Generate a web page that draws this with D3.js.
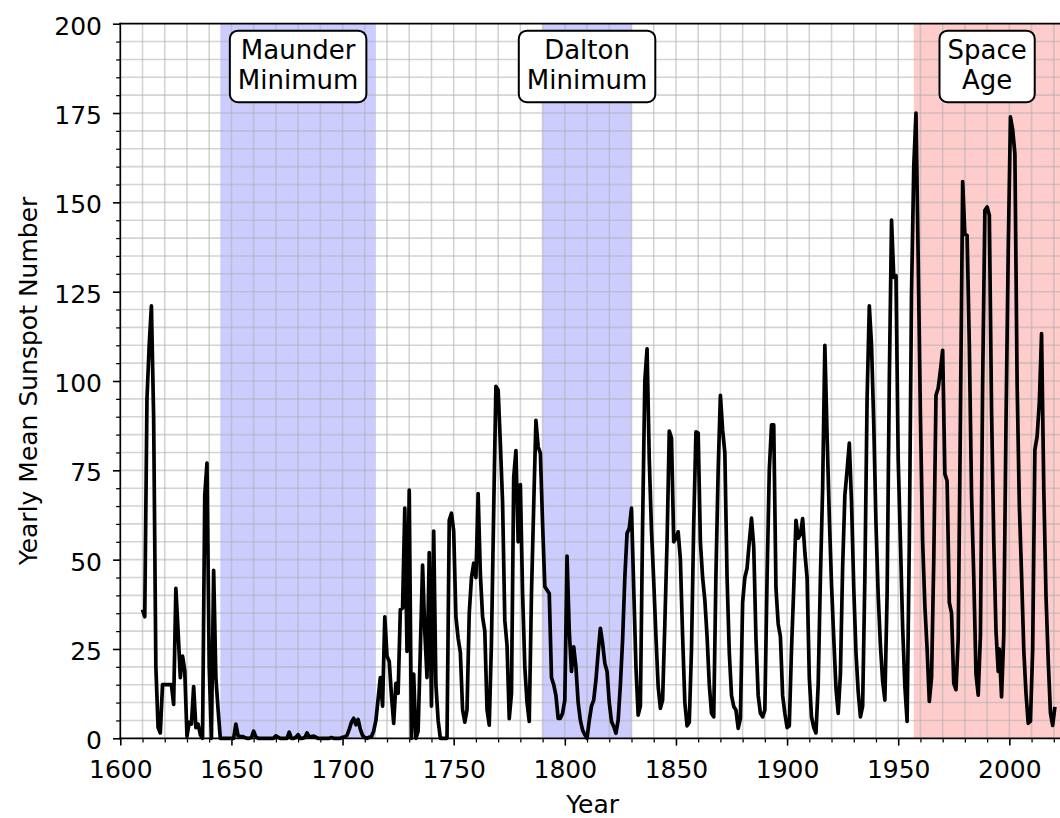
<!DOCTYPE html>
<html>
<head>
<meta charset="utf-8">
<script src="https://cdn.jsdelivr.net/npm/d3@7"></script>
<style>
  body { margin: 0; background: #fff; }
  svg { display: block; font-family: "DejaVu Sans", sans-serif; }
</style>
</head>
<body>
<svg id="chart" width="1060" height="818"></svg>
<script>
// yearly group sunspot numbers, 1610 - 1995 (one value per year)
var groupStart = 1610
var groupValues = [
  36, 34, 95, 110, 121, 90, 20, 3, 1.5, 15,          // 1610s
  15, 15, 15, 15, 9.5, 42, 30, 17, 23, 19,           // 1620s
  0.5, 4.5, 4, 14.5, 3, 4, 1, 0, 68, 77,             // 1630s
  20, 0, 47, 17, 8, 0, 0, 0, 0, 0,                   // 1640s
  0, 0, 4, 0.7, 0.5, 0.5, 0.2, 0, 0, 0.2,            // 1650s
  2, 0.4, 0, 0, 0, 0, 0, 0, 0, 0,                    // 1660s
  0.7, 0.3, 0, 0, 0, 0, 1.7, 0, 0, 0.3,              // 1670s
  1, 0, 0, 0.2, 1.5, 0.4, 0.5, 0.6, 0.3, 0,          // 1680s
  0, 0, 0, 0, 0, 0.2, 0, 0, 0, 0,                    // 1690s
  0.3, 0.4, 0.8, 2.5, 4.5, 5.6, 3.8, 5.3, 2.5, 0.8,  // 1700s
  0.2, 0, 0.3, 0.5, 2, 5, 11, 17, 9, 34,             // 1710s
  23, 21.5, 12, 4.2, 15.4, 12.6, 36, 36.4, 64.4, 24.3, // 1720s
  69.5, 0, 18, 0, 2, 25, 48.5, 30, 17, 52,           // 1730s
  9, 58, 15, 5, 0, 0, 0, 0, 61, 63,                  // 1740s
  58, 34, 28, 24, 8, 4.5, 8, 35, 45, 49,             // 1750s
  45, 68.5, 46, 34, 30, 8, 3.7, 27, 64, 98.5,        // 1760s
  97.5, 82.5, 66, 33, 26, 5.5, 12.5, 73, 80.5, 55,   // 1770s
  71, 40.5, 20, 10, 4.7, 40.6, 65, 89, 81.6, 79.8,   // 1780s
  60, 42.5, 41.5, 40.5, 17, 15, 12, 5.6, 5.6, 7,     // 1790s
  10.7, 51, 30, 18.7, 25.6, 20, 10, 5, 2.3, 1,       // 1800s
  0, 5, 9, 10.7, 16.3, 24, 30.8, 26.6, 21, 18.7,     // 1810s
  10, 4.7, 3.3, 1.4, 5.1, 15, 27.5, 45, 57.4, 58.8,  // 1820s
  64.4, 42, 20, 6.5, 9, 60, 100, 109, 78, 58,        // 1830s
  44, 28.5, 14.5, 8.4, 10.7, 32, 55, 86, 84, 55,     // 1840s
  56, 57.8, 50, 28.5, 10, 3.5, 4.5, 25, 60, 85.8,    // 1850s
  85.4, 55, 45, 38.7, 28.5, 15, 7, 6, 46, 75,        // 1860s
  96, 86.3, 80, 45, 24, 12, 8.9, 7.9, 2.8, 5.6,      // 1870s
  38, 45, 47.6, 55, 61.6, 53.6, 28, 12, 7, 6,        // 1880s
  7.9, 45, 75, 87.7, 87.7, 42, 32, 28.5, 12, 7,      // 1890s
  3, 3.5, 25, 42, 61, 56, 57, 61.5, 52, 45,          // 1900s
  17, 6, 3, 1.5, 15, 45, 70, 110, 85, 62,            // 1910s
  43, 28, 14, 7, 18, 48, 68, 75, 82.6, 66,           // 1920s
  42, 24, 13, 6, 9, 45, 95, 121, 110, 88,            // 1930s
  60, 40, 26, 16, 10.7, 40, 100, 145, 129, 129.5,    // 1940s
  78, 55, 31, 14.5, 4.7, 55, 125, 160, 175, 134,     // 1950s
  90, 55, 37, 25, 10.3, 17, 50, 96, 98, 103,         // 1960s
  108.6, 74, 72, 38, 35, 15.4, 13.6, 28, 90, 155.8,  // 1970s
  141, 140.8, 110, 68, 45, 18, 12.1, 29, 100, 147.8, // 1980s
  148.7, 146.4, 92, 55, 30, 18.7                     // 1990-1995
]

// yearly sunspot numbers 1995 - 2020, stamped at mid-year
var isnStart = 1995.5
var isnValues = [
  25, 11.6, 28.9, 88.3, 136.3, 173.9, 170.4, 163.6, 99.3, 65.3,
  45.8, 24.7, 12.6, 4.2, 4.8, 24.9, 80.8, 84.5, 94.0, 113.3,
  69.8, 39.8, 21.7, 7.0, 3.6, 8.8
]

var eraNames = [["Maunder", "Minimum"], ["Dalton", "Minimum"], ["Space", "Age"]]
var eraStart = [1645, 1790, 1957]
var eraEnd = [1715, 1830, 2023]
var eraColor = ["blue", "blue", "red"]

var xTicks = d3.range(1600, 2001, 50)
var yTicks = d3.range(0, 201, 25)

var width = 1060
var height = 818

var svg = d3.select("#chart")

var x = d3.scaleLinear().domain([1600, 2025]).range([120.3, 1064.9])
var y = d3.scaleLinear().domain([0, 200]).range([738.3, 23.7])

var points = groupValues.map((v, i) => ({year: groupStart + i, value: v}))
  .concat(isnValues.map((v, i) => ({year: isnStart + i, value: v})))

// shaded eras
svg.append("g")
  .selectAll("rect")
  .data(eraNames)
  .enter()
  .append("rect")
  .attr("x", (d, i) => x(eraStart[i]))
  .attr("width", (d, i) => x(eraEnd[i]) - x(eraStart[i]))
  .attr("y", y(200))
  .attr("height", y(0) - y(200))
  .attr("fill", (d, i) => eraColor[i])
  .attr("fill-opacity", 0.2)

// grid, every minor tick
var grid = svg.append("g")
  .attr("stroke", "#b0b0b0")
  .attr("stroke-opacity", 0.55)
  .attr("stroke-width", 1.6)

grid.selectAll("line.v")
  .data(d3.range(1610, 2025, 10))
  .enter()
  .append("line")
  .attr("x1", d => x(d)).attr("x2", d => x(d))
  .attr("y1", y(0)).attr("y2", y(200))

grid.selectAll("line.h")
  .data(d3.range(5, 200, 5))
  .enter()
  .append("line")
  .attr("x1", x(1600)).attr("x2", x(2025))
  .attr("y1", d => y(d)).attr("y2", d => y(d))

// the series
var line = d3.line()
  .x(d => x(d.year))
  .y(d => y(d.value))

svg.append("path")
  .datum(points)
  .attr("d", line)
  .attr("fill", "none")
  .attr("stroke", "black")
  .attr("stroke-width", 3.7)
  .attr("stroke-linejoin", "round")
  .attr("stroke-linecap", "butt")

// axes
var yAxis = svg.append("g")
  .attr("transform", "translate(" + x(1600) + ",0)")
  .call(d3.axisLeft(y).tickValues(yTicks).tickSize(7.3).tickSizeOuter(0).tickPadding(11))
var yMinor = svg.append("g")
  .attr("transform", "translate(" + x(1600) + ",0)")
  .call(d3.axisLeft(y).tickValues(d3.range(5, 200, 5).filter(d => d % 25)).tickSize(4.2).tickSizeOuter(0).tickFormat(""))

var xAxis = svg.append("g")
  .attr("transform", "translate(0," + y(0) + ")")
  .call(d3.axisBottom(x).tickValues(xTicks).tickSize(7.3).tickSizeOuter(0).tickFormat(d3.format("d")))
var xMinor = svg.append("g")
  .attr("transform", "translate(0," + y(0) + ")")
  .call(d3.axisBottom(x).tickValues(d3.range(1610, 2025, 10).filter(d => d % 50)).tickSize(4.2).tickSizeOuter(0).tickFormat(""))

svg.selectAll(".domain").remove()
svg.selectAll(".tick line").attr("stroke", "black").attr("stroke-width", 1.6)
yMinor.selectAll(".tick line").attr("stroke-width", 1.25)
xMinor.selectAll(".tick line").attr("stroke-width", 1.25)

yAxis.selectAll("text")
  .attr("font-size", 25)
  .attr("font-family", "DejaVu Sans")
  .attr("fill", "black")
  .attr("dy", "0.42em")
xAxis.selectAll("text")
  .attr("font-size", 25)
  .attr("font-family", "DejaVu Sans")
  .attr("fill", "black")
  .attr("y", 22)
  .attr("dy", "0.71em")

// spines
var spines = svg.append("g").attr("stroke", "black").attr("stroke-width", 1.7)
spines.append("line").attr("x1", x(1600)).attr("x2", x(1600)).attr("y1", y(0)).attr("y2", y(200)).attr("stroke-linecap", "square")
spines.append("line").attr("x1", x(1600)).attr("x2", x(2025)).attr("y1", y(0)).attr("y2", y(0)).attr("stroke-linecap", "square")
spines.append("line").attr("x1", x(1600)).attr("x2", x(2025)).attr("y1", y(200)).attr("y2", y(200)).attr("stroke-linecap", "square")
spines.append("line").attr("x1", x(2025)).attr("x2", x(2025)).attr("y1", y(0)).attr("y2", y(200))

// axis titles
svg.append("text")
  .attr("x", (x(1600) + x(2025)) / 2)
  .attr("y", 813)
  .attr("text-anchor", "middle")
  .attr("font-size", 25)
  .text("Year")

svg.append("text")
  .attr("transform", "translate(37," + (y(0) + y(200)) / 2 + ") rotate(-90)")
  .attr("text-anchor", "middle")
  .attr("font-size", 25)
  .text("Yearly Mean Sunspot Number")

// era labels in rounded boxes
eraNames.forEach(function(names, i) {
  var cx = x((eraStart[i] + eraEnd[i]) / 2)
  var g = svg.append("g")
  var box = g.append("rect")
  var t = g.append("text")
    .attr("text-anchor", "middle")
    .attr("font-size", 26)
  t.selectAll("tspan")
    .data(names)
    .enter()
    .append("tspan")
    .attr("x", cx)
    .attr("y", (d, j) => 59.3 + j * 29.5)
    .text(d => d)
  var bb = t.node().getBBox()
  box.attr("x", bb.x - 8)
    .attr("y", 30.7)
    .attr("width", bb.width + 16)
    .attr("height", 71.5)
    .attr("rx", 8)
    .attr("fill", "white")
    .attr("stroke", "black")
    .attr("stroke-width", 2)
})
</script>
</body>
</html>
